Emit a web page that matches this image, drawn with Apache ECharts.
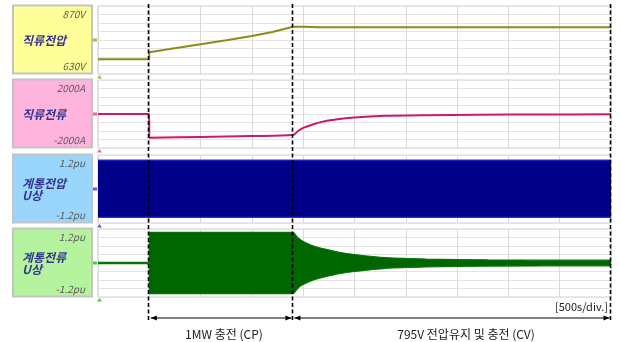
<!DOCTYPE html>
<html><head><meta charset="utf-8">
<script src="https://cdn.jsdelivr.net/npm/echarts@6/dist/echarts.min.js"></script>
<style>html,body{margin:0;padding:0;background:#fff}#c{width:621px;height:342px}</style>
</head><body><div id="c"></div>
<script>
// ---- data (time in s) ----
const timeDCV = [0, 499, 500, 700, 1000, 1250, 1500, 1700, 1900, 2000, 2150, 2500, 3500, 5000];
const dcVoltage = [682, 682, 707, 718, 735, 749, 764, 778, 797, 797, 795, 795, 795, 795];

const timeDCI = [0, 499, 500, 1000, 1500, 1900, 1950, 2000, 2100, 2200, 2350, 2500, 2800, 3200, 3700, 4300, 5000];
const dcCurrent = [0, 0, -1400, -1350, -1300, -1240, -1000, -820, -600, -440, -300, -200, -110, -70, -45, -30, -20];

const timeGV = [0, 1000, 2000, 3000, 4000, 5000];
const gridVUpper = [1.02, 1.02, 1.02, 1.02, 1.02, 1.02];
const gridVLower = [-1.0, -1.0, -1.0, -1.0, -1.0, -1.0];

const timeGIBase = [0, 500];
const gridIBase = [0, 0];
const timeGI = [0, 499, 500, 1900, 1950, 2000, 2100, 2200, 2350, 2500, 2800, 3200, 3800, 5000];
const gridIUpper = [0.02, 0.02, 1.08, 1.08, 0.88, 0.76, 0.60, 0.50, 0.38, 0.30, 0.19, 0.14, 0.11, 0.10];
const gridILower = [-0.02, -0.02, -1.08, -1.08, -0.88, -0.76, -0.60, -0.50, -0.38, -0.30, -0.19, -0.14, -0.11, -0.10];

const panelRanges = [[630, 870, 30], [-2000, 2000, 500], [-1.2, 1.2, 0.3], [-1.2, 1.2, 0.3]];
const panelTitles = [['직류전압'], ['직류전류'], ['계통전압', 'U상'], ['계통전류', 'U상']];
const panelTopLabels = ['870V', '2000A', '1.2pu', '1.2pu'];
const panelBottomLabels = ['630V', '-2000A', '-1.2pu', '-1.2pu'];
const phaseMarks = [500, 1900, 5000];
const phaseLabels = ['1MW 충전 (CP)', '795V 전압유지 및 충전 (CV)'];
const scaleLabel = '[500s/div.]';
const tMax = 5000, tDiv = 500;

// ---- layout ----
const tops = [6, 80, 155, 229];
const H = 68;
const boxColors = ['#ffff99', '#ffb4de', '#9ad6fb', '#b6f39e'];
const traceColors = ['#8c8c1c', '#d0186a', '#000088', '#006600'];
const FONT = '"Noto Sans CJK KR", "Noto Sans", sans-serif';

const zip = (a, b) => a.map((v, i) => [v, b[i]]);

const chart = echarts.init(document.getElementById('c'), null, {renderer: 'canvas'});

const grid = tops.map(t => ({left: 98, right: 10, top: t, height: H, show: true,
  borderColor: '#d2d2d2', borderWidth: 1, backgroundColor: '#fff'}));
const xAxis = tops.map((t, i) => ({type: 'value', gridIndex: i, min: 0, max: tMax, interval: tDiv,
  axisLabel: {show: false}, axisTick: {show: false}, axisLine: {show: false},
  splitLine: {show: true, lineStyle: {color: '#dadada', width: 1}}}));
const yAxis = panelRanges.map((r, i) => ({type: 'value', gridIndex: i, min: r[0], max: r[1], interval: r[2],
  axisLabel: {show: false}, axisTick: {show: false}, axisLine: {show: false},
  splitLine: {show: true, lineStyle: {color: '#e3e3e3', width: 1}}}));

const band = (xi, times, vals, edge, fill, smooth) => ({type: 'line', xAxisIndex: xi, yAxisIndex: xi,
  data: zip(times, vals), symbol: 'none', smooth: smooth, lineStyle: {color: edge, width: 1.2},
  areaStyle: {color: fill, opacity: 1, origin: 0}});

const series = [
  {type: 'line', xAxisIndex: 0, yAxisIndex: 0, data: zip(timeDCV, dcVoltage), symbol: 'none',
    lineStyle: {color: traceColors[0], width: 2}},
  {type: 'line', xAxisIndex: 1, yAxisIndex: 1, data: zip(timeDCI, dcCurrent), symbol: 'none', smooth: 0.3,
    lineStyle: {color: traceColors[1], width: 2}},
  band(2, timeGV, gridVUpper, '#2b2bd6', traceColors[2], false),
  band(2, timeGV, gridVLower, '#2b2bd6', traceColors[2], false),
  {type: 'line', xAxisIndex: 3, yAxisIndex: 3, data: zip(timeGIBase, gridIBase), symbol: 'none',
    lineStyle: {color: '#1fbf1f', width: 2}},
  band(3, timeGI, gridIUpper, '#0a720a', traceColors[3], 0.2),
  band(3, timeGI, gridILower, '#0a720a', traceColors[3], 0.2)
];

chart.setOption({animation: false, backgroundColor: '#fff', grid, xAxis, yAxis, series});

function buildGraphics() {
  const g = [];
  const px = t => chart.convertToPixel({xAxisIndex: 0}, t);
  tops.forEach((t, i) => {
    const yTop = chart.convertToPixel({yAxisIndex: i}, panelRanges[i][1]);
    const yBot = chart.convertToPixel({yAxisIndex: i}, panelRanges[i][0]);
    const yMid = (yTop + yBot) / 2;
    g.push({type: 'rect', shape: {x: 13, y: yTop - 0.5, width: 79, height: yBot - yTop},
      style: {fill: boxColors[i], stroke: '#c4c4c4', lineWidth: 2}});
    const lines = panelTitles[i];
    lines.forEach((s, k) => {
      const off = lines.length === 1 ? 0 : (k === 0 ? -6 : 6);
      g.push({type: 'text', x: 22, y: yMid + off, style: {text: s, fill: '#34348c',
        font: 'italic bold 12px ' + FONT, align: 'left', verticalAlign: 'middle'}});
    });
    g.push({type: 'text', x: 85, y: yTop + 8, style: {text: panelTopLabels[i], fill: '#5a5a5a',
      font: 'italic 10px ' + FONT, align: 'right', verticalAlign: 'middle'}});
    g.push({type: 'text', x: 85, y: yBot - 8, style: {text: panelBottomLabels[i], fill: '#5a5a5a',
      font: 'italic 10px ' + FONT, align: 'right', verticalAlign: 'middle'}});
    const mk = ['#b8b830', '#ff5aa0', '#5a5aff', '#33dd33'][i];
    g.push({type: 'rect', shape: {x: 93, y: yMid - 1.5, width: 4, height: 3}, style: {fill: mk}});
    g.push({type: 'polygon', shape: {points: [[97, yBot + 4.5], [99.5, yBot + 1], [102, yBot + 4.5]]}, style: {fill: mk}});
  });
  phaseMarks.forEach(t => {
    const x = Math.round(px(t)) - 0.5;
    g.push({type: 'line', shape: {x1: x, y1: 4, x2: x, y2: 322},
      style: {stroke: '#000', lineWidth: 1.6, lineDash: [4, 2.5]}, z: 10});
  });
  const ay = 318;
  for (let k = 0; k < phaseMarks.length - 1; k++) {
    const xa = px(phaseMarks[k]) + 1.5, xb = px(phaseMarks[k + 1]) - 1.5;
    g.push({type: 'line', shape: {x1: xa, y1: ay, x2: xb, y2: ay}, style: {stroke: '#000', lineWidth: 1}});
    g.push({type: 'polygon', shape: {points: [[xa, ay], [xa + 6, ay - 2.5], [xa + 6, ay + 2.5]]}, style: {fill: '#000'}});
    g.push({type: 'polygon', shape: {points: [[xb, ay], [xb - 6, ay - 2.5], [xb - 6, ay + 2.5]]}, style: {fill: '#000'}});
  }
  const lx = [224, 466];
  phaseLabels.forEach((s, k) => {
    g.push({type: 'text', x: lx[k], y: 334, style: {text: s, fill: '#222',
      font: '12px ' + FONT, align: 'center', verticalAlign: 'middle'}});
  });
  g.push({type: 'text', x: px(tMax) - 3, y: 307, style: {text: scaleLabel, fill: '#222',
    font: '11px ' + FONT, align: 'right', verticalAlign: 'middle'}});
  return g;
}
chart.setOption({graphic: buildGraphics()});
</script>
</body></html>
